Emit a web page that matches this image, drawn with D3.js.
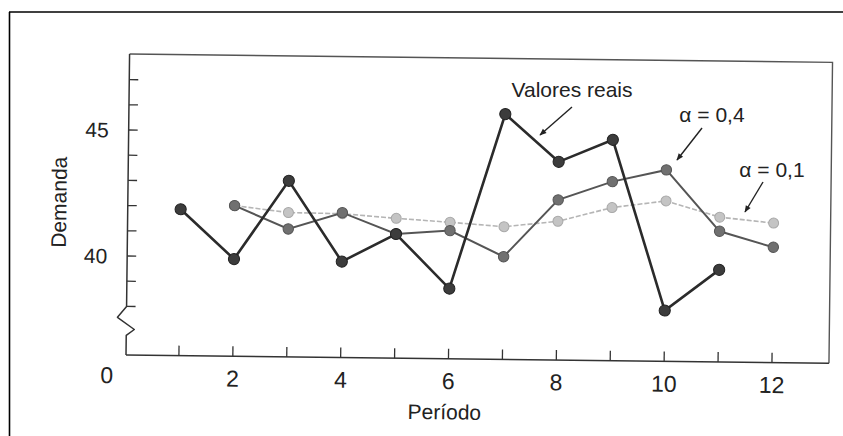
<!DOCTYPE html>
<html>
<head>
<meta charset="utf-8">
<script src="https://cdn.jsdelivr.net/npm/d3@7"></script>
<style>
  body { margin: 0; background: #fff; }
  svg { display: block; }
  text { font-family: "Liberation Sans", Arial, sans-serif; fill: #222; }
  .narrow { font-family: "Liberation Sans Narrow", "Liberation Sans", Arial, sans-serif; }
</style>
</head>
<body>
<div id="chart"></div>
<script>
// Periods and series
const periods = [1, 2, 3, 4, 5, 6, 7, 8, 9, 10, 11, 12];
const actual = [41.88, 39.93, 43.06, 39.88, 41.0, 38.86, 45.81, 43.94, 44.84, 38.09, 39.73, null];
const alpha04 = [null, 42.05, 41.15, 41.82, 41.0, 41.16, 40.15, 42.43, 43.18, 43.67, 41.26, 40.65];
const alpha01 = [null, 42.05, 41.8, 41.78, 41.62, 41.49, 41.34, 41.58, 42.15, 42.44, 41.82, 41.61];
const xTickLabels = [2, 4, 6, 8, 10, 12];
const yTicks = [38, 39, 40, 41, 42, 43, 44, 45, 46, 47];
const yTickLabels = [40, 45];

const W = 843, H = 436;
const svg = d3.select("#chart").append("svg")
    .attr("width", W)
    .attr("height", H);

// scanned page frame
svg.append("line").attr("x1", 9).attr("y1", 12).attr("x2", W).attr("y2", 12)
    .attr("stroke", "#000").attr("stroke-width", 1.6);
svg.append("line").attr("x1", 9.5).attr("y1", 12).attr("x2", 9.5).attr("y2", H)
    .attr("stroke", "#000").attr("stroke-width", 1.6);

const x = d3.scaleLinear().domain([0, 12]).range([125, 772]);
const y = d3.scaleLinear().domain([40, 45]).range([256, 130]);

const x0 = 126, yBase = 355, plotTop = 54, plotRight = 829;

// the scan is slightly tilted, so the plot sits in a rotated group
const g = svg.append("g")
    .attr("transform", `rotate(0.68, ${x0}, ${yBase})`);

const axisColor = "#333";

// top and right edges of the plot box
g.append("path")
    .attr("d", `M${x0},${plotTop} H${plotRight} V${yBase}`)
    .attr("fill", "none").attr("stroke", "#555").attr("stroke-width", 1.4);

// y axis with a break near the bottom
const yBreak = y(38);
g.append("path")
    .attr("d", `M${x0},${plotTop} V${yBreak} L${x0 - 9},${yBreak + 11} L${x0 + 8},${yBreak + 23} L${x0},${yBreak + 29} V${yBase}`)
    .attr("fill", "none").attr("stroke", axisColor).attr("stroke-width", 1.5)
    .attr("stroke-linejoin", "round");

// x axis
g.append("line")
    .attr("x1", x0).attr("y1", yBase).attr("x2", plotRight).attr("y2", yBase)
    .attr("stroke", axisColor).attr("stroke-width", 1.5);

// ticks
g.selectAll(".ytick").data(yTicks).enter().append("line")
    .attr("x1", x0).attr("x2", x0 + 9)
    .attr("y1", d => y(d)).attr("y2", d => y(d))
    .attr("stroke", axisColor).attr("stroke-width", 1.3);

g.selectAll(".xtick").data(periods).enter().append("line")
    .attr("x1", d => x(d)).attr("x2", d => x(d))
    .attr("y1", yBase).attr("y2", yBase - 10)
    .attr("stroke", axisColor).attr("stroke-width", 1.3);

// tick labels
g.selectAll(".ylab").data(yTickLabels).enter().append("text")
    .attr("x", 106).attr("y", d => y(d))
    .attr("dy", "0.36em")
    .attr("text-anchor", "end")
    .attr("font-size", 21)
    .text(d => d);

g.selectAll(".xlab").data(xTickLabels).enter().append("text")
    .attr("class", "narrow")
    .attr("x", d => x(d)).attr("y", 377)
    .attr("dy", "0.36em")
    .attr("text-anchor", "middle")
    .attr("font-size", 23)
    .text(d => d);

g.append("text")
    .attr("class", "narrow")
    .attr("x", 107).attr("y", 375)
    .attr("dy", "0.36em")
    .attr("text-anchor", "middle")
    .attr("font-size", 23)
    .text("0");

// axis titles
g.append("text")
    .attr("x", 445).attr("y", 408)
    .attr("dy", "0.36em")
    .attr("text-anchor", "middle")
    .attr("font-size", 21)
    .text("Período");

g.append("text")
    .attr("transform", "translate(57,203) rotate(-90)")
    .attr("dy", "0.36em")
    .attr("text-anchor", "middle")
    .attr("font-size", 21)
    .text("Demanda");

// series
const series = [
    { values: alpha01, stroke: "#b5b5b5", width: 1.6, dash: "5,2", dot: "#c4c4c4", dotStroke: "#a8a8a8", r: 5 },
    { values: alpha04, stroke: "#555", width: 2, dash: null, dot: "#707070", dotStroke: "#555", r: 5.2 },
    { values: actual, stroke: "#2b2b2b", width: 2.6, dash: null, dot: "#3c3c3c", dotStroke: "#222", r: 5.6 }
];

const line = d3.line()
    .defined(d => d.v != null)
    .x(d => x(d.p))
    .y(d => y(d.v));

series.forEach(s => {
    const pts = periods.map((p, i) => ({ p: p, v: s.values[i] }));
    g.append("path")
        .datum(pts)
        .attr("fill", "none")
        .attr("stroke", s.stroke)
        .attr("stroke-width", s.width)
        .attr("stroke-dasharray", s.dash)
        .attr("d", line);
    g.selectAll(null)
        .data(pts.filter(d => d.v != null))
        .enter().append("circle")
        .attr("cx", d => x(d.p))
        .attr("cy", d => y(d.v))
        .attr("r", s.r)
        .attr("fill", s.dot)
        .attr("stroke", s.dotStroke)
        .attr("stroke-width", 1);
});

// annotations with arrows
svg.append("defs").append("marker")
    .attr("id", "arrow")
    .attr("viewBox", "0 0 10 10")
    .attr("refX", 9).attr("refY", 5)
    .attr("markerWidth", 9).attr("markerHeight", 7)
    .attr("markerUnits", "userSpaceOnUse")
    .attr("orient", "auto")
    .append("path")
    .attr("d", "M0,1 L10,5 L0,9 Z")
    .attr("fill", "#222");

const notes = [
    { text: "Valores reais", tx: 572, ty: 97, from: [572, 107], to: [540, 135] },
    { text: "α = 0,4", tx: 712, ty: 122, from: [702, 128], to: [677, 160] },
    { text: "α = 0,1", tx: 772, ty: 177, from: [763, 182], to: [745, 212] }
];

notes.forEach(n => {
    svg.append("text")
        .attr("x", n.tx).attr("y", n.ty)
        .attr("text-anchor", "middle")
        .attr("font-size", 21)
        .text(n.text);
    svg.append("line")
        .attr("x1", n.from[0]).attr("y1", n.from[1])
        .attr("x2", n.to[0]).attr("y2", n.to[1])
        .attr("stroke", "#222").attr("stroke-width", 1.4)
        .attr("marker-end", "url(#arrow)");
});
</script>
</body>
</html>
